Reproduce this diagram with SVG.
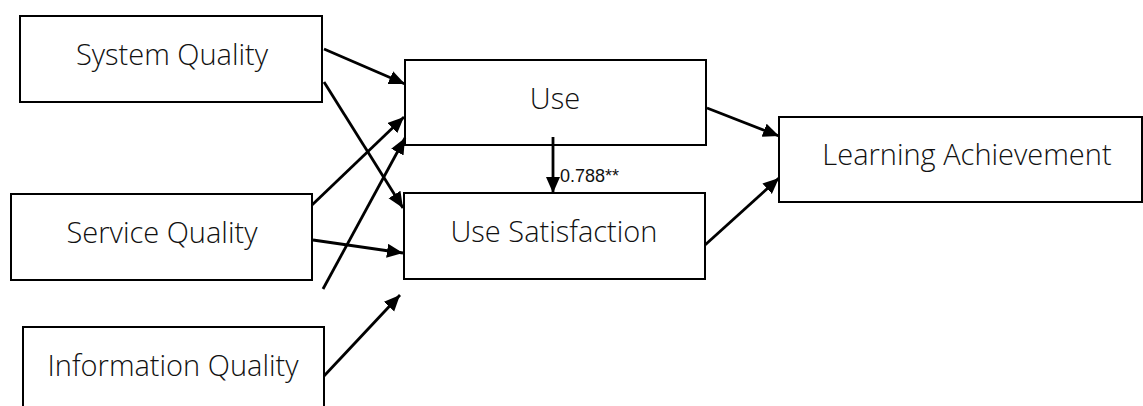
<svg xmlns="http://www.w3.org/2000/svg" width="1143" height="406" viewBox="0 0 1143 406">
  <style>
    .box { fill: #ffffff; stroke: #000000; stroke-width: 2; }
    .label { font-family: "Open Sans", "Noto Sans", "Liberation Sans", sans-serif; font-weight: 300; font-size: 29px; fill: #111111; text-anchor: middle; }
    .edge { stroke: #000000; stroke-width: 2.8; fill: none; marker-end: url(#arrow); }
    .coef { font-family: "Liberation Sans", Arial, sans-serif; font-size: 18px; fill: #111111; }
  </style>
  <defs>
    <marker id="arrow" markerUnits="userSpaceOnUse" markerWidth="17" markerHeight="15" refX="16" refY="7" orient="auto">
      <path d="M0,0 L16,7 L0,14 z" fill="#000000"/>
    </marker>
  </defs>
  <rect width="1143" height="406" fill="#ffffff"/>

  <g id="system-quality">
    <rect class="box" x="20" y="16" width="302" height="86"/>
    <text class="label" x="172" y="65">System Quality</text>
  </g>
  <g id="service-quality">
    <rect class="box" x="11" y="194" width="301" height="86"/>
    <text class="label" x="162" y="243">Service Quality</text>
  </g>
  <g id="information-quality">
    <rect class="box" x="23" y="327" width="301" height="90"/>
    <text class="label" x="173" y="376">Information Quality</text>
  </g>
  <g id="use">
    <rect class="box" x="405" y="60" width="301" height="85"/>
    <text class="label" x="555" y="109">Use</text>
  </g>
  <g id="use-satisfaction">
    <rect class="box" x="404" y="193" width="301" height="86"/>
    <text class="label" x="554" y="242">Use Satisfaction</text>
  </g>
  <g id="learning-achievement">
    <rect class="box" x="779" y="117" width="363" height="85"/>
    <text class="label" x="967" y="165">Learning Achievement</text>
  </g>

  <g id="connectors">
    <line class="edge" x1="324" y1="49" x2="405" y2="84"/>
    <line class="edge" x1="324" y1="82" x2="403" y2="208"/>
    <line class="edge" x1="312" y1="205" x2="404" y2="117"/>
    <line class="edge" x1="323" y1="289" x2="405" y2="138"/>
    <line class="edge" x1="313" y1="240" x2="403" y2="253"/>
    <line class="edge" x1="324" y1="376" x2="400" y2="295"/>
    <line class="edge" x1="707" y1="108" x2="779" y2="136"/>
    <line class="edge" x1="705" y1="245" x2="779" y2="178"/>
    <line class="edge" x1="553" y1="137" x2="553" y2="193"/>
    <text class="coef" x="560" y="182">0.788**</text>
  </g>
</svg>
